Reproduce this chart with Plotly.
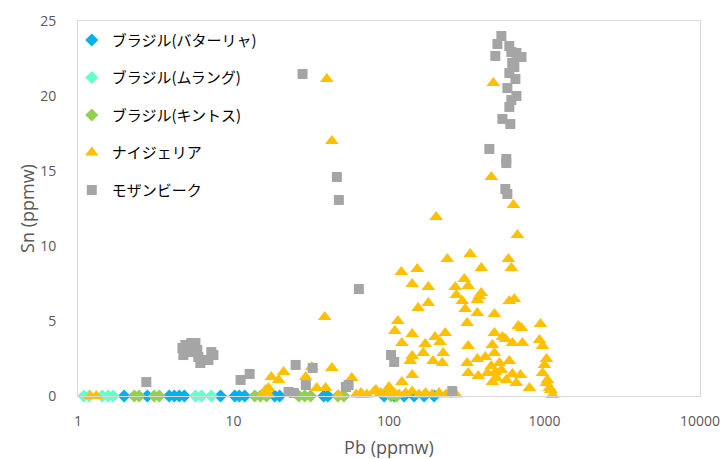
import plotly.graph_objects as go

# ---- data (Pb ppmw, Sn ppmw) ----
bat_pb = [1.98, 2.79, 3.86, 4.16, 4.48, 4.83, 8.25, 10.2, 10.9, 11.8, 18.4, 19.8, 38.0, 40.4,
          93, 108, 125, 145, 168, 195]
bat_sn = [0, 0, 0, 0, 0, 0, 0, 0, 0, 0, 0, 0, 0, 0, 0, 0, 0, 0, 0, 0]

mur_pb = [1.09, 1.18, 1.43, 1.56, 1.68, 5.69, 6.22, 7.21]
mur_sn = [0, 0, 0, 0, 0, 0, 0, 0]

kin_pb = [2.30, 2.47, 3.09, 3.33, 13.7, 14.9, 16.3, 26.3, 28.7, 31.3, 46.9, 51.2, 103, 112]
kin_sn = [0, 0, 0, 0, 0, 0, 0, 0, 0, 0, 0, 0, 0, 0]

nig_pb = [1.20, 1.31,
          15.6, 16.8, 47.5, 61.5, 66, 72, 80, 88.6, 97, 108, 116, 128, 141, 156, 172, 189, 210, 232, 251, 270,
          17.5, 21.0, 19.5, 16.8, 29.1, 31.9, 42.9, 57.6, 34.3, 39.1, 67, 82.5, 100, 16.1,
          39.8, 42.9, 38.6, 469, 455,
          631, 201, 670, 333, 237, 586, 392, 612, 120, 152, 141, 179, 305, 267, 323, 271, 381, 370, 296, 309,
          154, 179, 594, 640, 370, 476, 114, 109, 141, 318, 679, 711, 942, 476, 536, 121, 230, 198, 171, 213,
          323, 462, 560, 622, 721, 929, 971, 166, 223, 141, 137, 192, 220, 318, 370, 416, 476, 513, 594, 1030,
          455, 1000, 323, 375, 429, 483, 528, 622, 700, 971, 141, 121, 462, 659, 800, 1030, 1077, 1127, 100,
          490, 568, 392, 1045, 1100]
nig_sn = [0, 0,
          0.2, 0.1, 0.05, 0.1, 0.2, 0.1, 0.3, 0.2, 0.1, 0.2, 0.1, 0.2, 0.3, 0.1, 0.2, 0.1, 0.2, 0.1, 0.2, 0.1,
          1.27, 1.6, 1.07, 0.53, 1.27, 1.93, 1.87, 1.2, 0.53, 0.53, 0.07, 0.4, 0.53, 0.4,
          21.13, 17.0, 5.27, 20.87, 14.6,
          12.73, 11.93, 10.73, 9.47, 9.13, 9.13, 8.53, 8.53, 8.27, 8.47, 7.47, 7.27, 7.8, 7.27, 7.33, 6.73, 6.67, 6.4, 6.33, 5.8,
          5.87, 6.2, 6.33, 6.47, 5.53, 5.47, 5.0, 4.33, 4.13, 4.87, 4.67, 4.53, 4.8, 4.2, 3.93, 3.53, 4.2, 3.93, 3.47, 3.6,
          3.33, 3.4, 3.8, 3.53, 3.53, 3.73, 3.33, 2.87, 2.87, 2.67, 2.33, 2.33, 2.2, 2.2, 2.47, 2.6, 2.87, 2.2, 2.33, 2.47,
          2.0, 2.07, 1.53, 1.33, 1.53, 1.6, 1.73, 1.47, 1.4, 1.53, 1.4, 0.93, 0.93, 0.87, 0.53, 0.87, 0.53, 0.07, 0.6,
          1.2, 1.07, 6.87, 1.07, 0.4]

moz_pb = [2.75, 4.76, 4.9, 5.35, 5.69, 5.28, 5.85, 5.94, 6.4, 6.12, 6.9, 7.2, 7.43, 4.69,
          11.1, 12.7, 25.1, 32.3, 22.6, 24.4, 29.2, 52.8, 55, 103, 108, 255,
          27.8, 46.2, 47.6, 64,
          528, 498, 594, 612, 660, 711, 483, 620, 640, 594, 650, 577, 660, 612, 594, 536, 603,
          442, 568, 568, 560, 577]
moz_sn = [0.93, 2.73, 3.4, 3.53, 3.53, 2.93, 3.07, 2.6, 2.4, 2.2, 2.4, 2.93, 2.73, 3.2,
          1.07, 1.47, 2.07, 1.87, 0.27, 0.2, 0.73, 0.6, 0.73, 2.73, 2.27, 0.33,
          21.47, 14.6, 13.07, 7.13,
          24.0, 23.47, 23.33, 22.93, 22.87, 22.6, 22.67, 22.2, 21.93, 21.53, 21.13, 20.53, 20.0, 19.73, 19.27, 18.47, 18.13,
          16.47, 15.8, 15.53, 13.8, 13.47]

x_ticks = [1, 10, 100, 1000, 10000]
x_ticktext = ["1", "10", "100", "1000", "10000"]
y_ticks = [0, 5, 10, 15, 20, 25]

names = ["ブラジル(バターリャ)", "ブラジル(ムラング)", "ブラジル(キントス)", "ナイジェリア", "モザンビーク"]

fig = go.Figure()
series = [
    (bat_pb, bat_sn, names[0], "diamond", "#00B0F0", 10),
    (mur_pb, mur_sn, names[1], "diamond", "#66FFCC", 10),
    (kin_pb, kin_sn, names[2], "diamond", "#92D050", 10),
    (nig_pb, nig_sn, names[3], "triangle-up", "#FFC000", 12),
    (moz_pb, moz_sn, names[4], "square", "#A5A5A5", 10),
]
for i, (xs, ys, nm, sym, col, sz) in enumerate(series):
    fig.add_trace(go.Scatter(
        x=xs, y=ys, mode="markers", name=nm, legendgroup=str(i),
        marker=dict(symbol=sym, color=col, size=sz, line=dict(width=0)),
        cliponaxis=False,
    ))

tick_font = dict(family="Open Sans, sans-serif", size=14, color="#595959")
title_font = dict(family="Open Sans, sans-serif", size=18, color="#595959")

fig.update_layout(
    width=726, height=459,
    margin=dict(l=78, r=26, t=21, b=63, autoexpand=False),
    paper_bgcolor="white", plot_bgcolor="white",
    showlegend=True,
    legend=dict(
        x=-0.01, xanchor="left",
        y=0.993, yanchor="top",
        traceorder="grouped", tracegroupgap=15,
        font=dict(family="Noto Sans CJK JP", size=15, color="#000000"),
        bgcolor="rgba(0,0,0,0)",
    ),
    xaxis=dict(
        type="log", range=[0, 4], tickvals=x_ticks, ticktext=x_ticktext,
        showgrid=False, zeroline=False, showline=True, mirror=True,
        linecolor="#D9D9D9", linewidth=1, ticks="",
        tickfont=tick_font, ticklabelstandoff=12,
        title=dict(text="Pb (ppmw)", font=title_font, standoff=14),
        automargin=False,
    ),
    yaxis=dict(
        range=[0, 25], tickvals=y_ticks,
        showgrid=False, zeroline=False, showline=True, mirror=True,
        linecolor="#D9D9D9", linewidth=1, ticks="",
        tickfont=tick_font, ticklabelstandoff=18,
        title=dict(text="Sn (ppmw)", font=title_font, standoff=0),
        automargin=False,
    ),
)

fig.write_html("out.html")
